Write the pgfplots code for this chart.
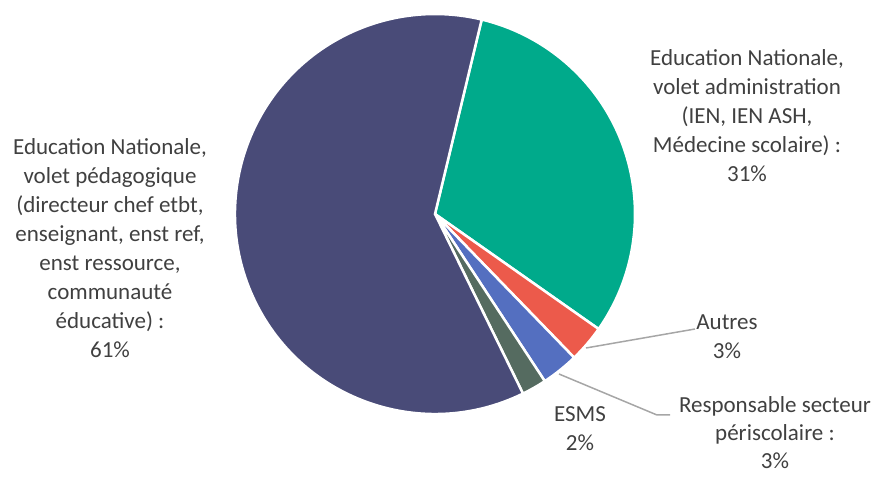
\documentclass[border=0pt]{standalone}
\usepackage{pgfplots}
\pgfplotsset{compat=1.18}
\usepackage{fontspec}
\setmainfont{Carlito}
\definecolor{cNavy}{HTML}{494B78}
\definecolor{cTeal}{HTML}{00AA8B}
\definecolor{cRed}{HTML}{EC5A4B}
\definecolor{cBlue}{HTML}{546FC0}
\definecolor{cGrey}{HTML}{556B60}
\definecolor{cText}{HTML}{404040}
\definecolor{cLine}{HTML}{A6A6A6}

% cumulative share from, share to, colour
\newcommand{\slice}[3]{%
  \fill[#3, draw=white, line width=2.5pt] (axis cs:435,263) -- ++({76.5-3.6*#1}:200pt)
    arc[start angle={76.5-3.6*#1}, end angle={76.5-3.6*#2}, radius=200pt] -- cycle;}

\tikzset{lbl/.style={text=cText, align=center, font=\fontsize{23}{29}\selectfont, inner sep=0pt}}

\begin{document}
\begin{tikzpicture}
\begin{axis}[
    width=879pt, height=477pt, scale only axis,
    xmin=0, xmax=879, ymin=0, ymax=477,
    hide axis, clip=false
]
\path (axis cs:0,0) rectangle (axis cs:879,477);

% shares: 31, 3, 3, 2, 61
\slice{0}{31}{cTeal}
\slice{31}{34}{cRed}
\slice{34}{37}{cBlue}
\slice{37}{39}{cGrey}
\slice{39}{100}{cNavy}

\draw[cLine, line width=1.5pt] (axis cs:586,129) -- (axis cs:695,148);
\draw[cLine, line width=1.5pt] (axis cs:559,103) -- (axis cs:657,62) -- (axis cs:670,62);

\node[lbl] at (axis cs:110,229) {Education Nationale,\\volet pédagogique\\(directeur chef etbt,\\enseignant, enst ref,\\enst ressource,\\communauté\\éducative) :\\61\%};
\node[lbl] at (axis cs:747,361) {Education Nationale,\\volet administration\\(IEN, IEN ASH,\\Médecine scolaire) :\\31\%};
\node[lbl] at (axis cs:727,140) {Autres\\3\%};
\node[lbl] at (axis cs:580,48) {ESMS\\2\%};
\node[lbl, font=\fontsize{23}{28}\selectfont] at (axis cs:775,44) {Responsable secteur\\périscolaire :\\3\%};
\end{axis}
\end{tikzpicture}
\end{document}
